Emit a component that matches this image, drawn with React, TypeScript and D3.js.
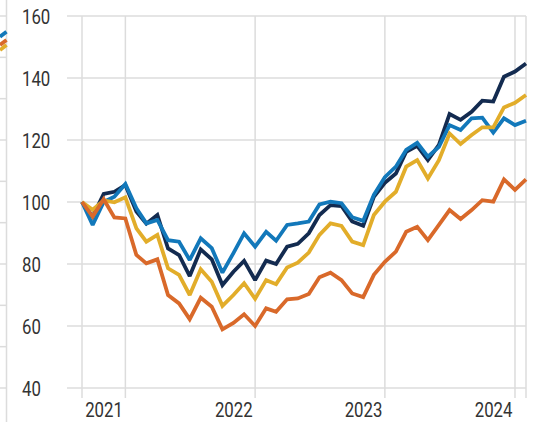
import React from "react";
import * as d3 from "d3";

// Monthly month-end observations, Aug 2021 – Jan 2025
const startMonth = new Date(2021, 7, 31);
const monthCount = 42;

const navySeries = [100, 95.3, 102.6, 103.3, 105.5, 96.9, 93, 95.8, 85, 82.9, 76.1, 84.7, 81.5, 73.2, 77.5, 81, 74.8, 81.1, 80, 85.6, 86.5, 89.9, 95.8, 99, 98.7, 93.7, 92.3, 101.7, 106.2, 109.2, 116.2, 118.1, 113.5, 118.4, 128.4, 126.5, 129.1, 132.7, 132.4, 140.4, 142.1, 144.7];
const blueSeries = [100, 92.6, 100, 101.7, 105.8, 98, 93.1, 94.2, 87.7, 87.2, 81.3, 88.3, 85.1, 77.2, 83.5, 89.9, 85.6, 90.4, 87.5, 92.6, 93.1, 93.7, 99.2, 100.1, 99.6, 95.1, 93.9, 102.3, 108, 111.4, 116.8, 119.1, 114.6, 117.8, 124.8, 123.2, 127, 127.2, 122.4, 127, 124.8, 126.2];
const yellowSeries = [100, 97.5, 100.5, 99.9, 101.5, 91.5, 87.2, 89.4, 78.6, 76.5, 70, 78.3, 74.3, 66.5, 70, 73.8, 68.8, 74.8, 73.5, 78.9, 80.4, 83.7, 89.4, 93.1, 92.3, 87.2, 86.1, 95.8, 100.1, 103.3, 111.4, 113.5, 107.6, 113.5, 122.1, 118.7, 121.6, 124.1, 124.1, 130.5, 132, 134.5];
const orangeSeries = [100, 95.3, 100.9, 95, 94.7, 82.9, 80.2, 81.5, 70, 67.3, 62.2, 69.1, 66.2, 58.9, 61, 63.8, 60, 65.7, 64.6, 68.6, 68.9, 70.3, 75.7, 77.2, 74.8, 70.5, 69.3, 76.5, 80.7, 84, 90.4, 92, 87.7, 92.6, 97.4, 94.5, 97.4, 100.6, 100.1, 107.3, 103.9, 107.3];

const yTicks = [40, 60, 80, 100, 120, 140, 160];
const yearLabels = ["2021", "2022", "2023", "2024"];

// fragment of the neighbouring panel on the left edge
const neighborTicks = [0, 20, 40, 60, 80, 100, 120, 140, 160, 180];
const neighborBlue = [170, 172.4];
const neighborOrange = [166, 168.4];
const neighborYellow = [163.5, 166];

const COLORS = {
  navy: "#132b50",
  blue: "#1278ba",
  yellow: "#e2ad2a",
  orange: "#d9692a",
  grid: "#dcdcdc",
  text: "#333333",
};

function monthEnd(i: number) {
  return new Date(startMonth.getFullYear(), startMonth.getMonth() + i + 1, 0);
}

export default function App() {
  const width = 537;
  const height = 422;
  const dates = d3.range(monthCount).map(monthEnd);
  const x = d3
    .scaleTime()
    .domain([dates[0], dates[dates.length - 1]])
    .range([82, 526]);
  const y = d3.scaleLinear().domain([40, 160]).range([388, 16]);
  const gridLeft = 67;
  const gridRight = 526;

  const yearTicks = yearLabels.map((yr) => new Date(+yr, 11, 31));
  const vLines = [dates[0], ...yearTicks, dates[dates.length - 1]];

  const line = d3
    .line<number>()
    .x((_, i) => x(dates[i]))
    .y((v) => y(v))
    .curve(d3.curveLinear);

  const series = [
    { data: navySeries, color: COLORS.navy },
    { data: blueSeries, color: COLORS.blue },
    { data: yellowSeries, color: COLORS.yellow },
    { data: orangeSeries, color: COLORS.orange },
  ];

  const ny = d3.scaleLinear().domain([0, 180]).range([388, 16]);
  const nx = d3.scaleLinear().domain([0, 1]).range([0, 6.5]);
  const nLine = d3
    .line<number>()
    .x((_, i) => nx(i))
    .y((v) => ny(v));

  const font = "Roboto, 'Liberation Sans', sans-serif";
  const sx = 0.8;

  return (
    <svg
      width={width}
      height={height}
      style={{ position: "absolute", left: 0, top: 0, background: "#fff" }}
    >
      {/* neighbour fragment */}
      <g>
        {neighborTicks.map((t) => (
          <line key={t} x1={0} x2={6.5} y1={ny(t)} y2={ny(t)} stroke={COLORS.grid} strokeWidth={1.5} />
        ))}
        <line x1={6.5} x2={6.5} y1={0} y2={height} stroke={COLORS.grid} strokeWidth={1.5} />
        <path d={nLine(neighborYellow) || ""} fill="none" stroke={COLORS.yellow} strokeWidth={3.8} />
        <path d={nLine(neighborOrange) || ""} fill="none" stroke={COLORS.orange} strokeWidth={3.8} />
        <path d={nLine(neighborBlue) || ""} fill="none" stroke={COLORS.blue} strokeWidth={3.8} />
      </g>

      {/* horizontal grid */}
      {yTicks.map((t) => (
        <line key={t} x1={gridLeft} x2={gridRight} y1={y(t)} y2={y(t)} stroke={COLORS.grid} strokeWidth={1.5} />
      ))}
      {/* vertical grid */}
      {vLines.map((d, i) => (
        <line key={i} x1={x(d)} x2={x(d)} y1={16} y2={398} stroke={COLORS.grid} strokeWidth={1.5} />
      ))}

      {/* y labels */}
      {yTicks.map((t) => (
        <text
          key={t}
          transform={`translate(22,${y(t)}) scale(${sx},1)`}
          dy="0.36em"
          fontSize={21}
          fill={COLORS.text}
          fontFamily={font}
        >
          {t}
        </text>
      ))}
      {/* x labels */}
      {yearTicks.map((d, i) => (
        <text
          key={i}
          transform={`translate(${x(d) - 2.5},416.5) scale(${sx},1)`}
          textAnchor="end"
          fontSize={21}
          fill={COLORS.text}
          fontFamily={font}
        >
          {yearLabels[i]}
        </text>
      ))}

      {/* lines */}
      {series.map((s, i) => (
        <path
          key={i}
          d={line(s.data) || ""}
          fill="none"
          stroke={s.color}
          strokeWidth={3.8}
          strokeLinejoin="miter"
          strokeMiterlimit={2}
        />
      ))}
    </svg>
  );
}
